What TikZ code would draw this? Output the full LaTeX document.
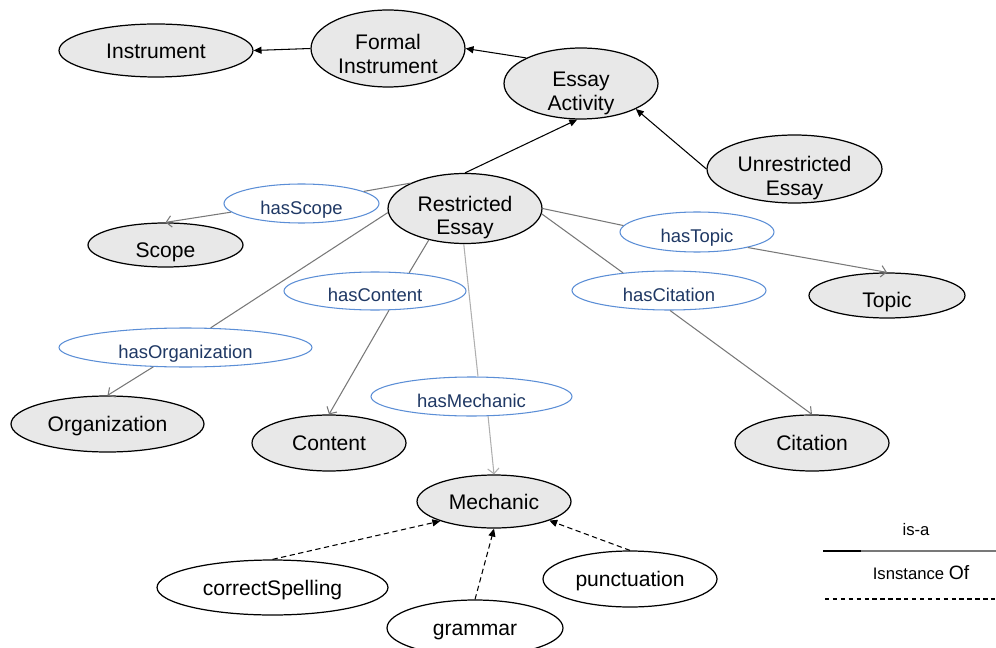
\documentclass[tikz,border=0pt]{standalone}
\usepackage{fontspec}
\setmainfont{Liberation Sans}
\usetikzlibrary{shapes.geometric,arrows.meta}
\definecolor{relazul}{RGB}{91,142,214}
\definecolor{textoazul}{RGB}{31,56,100}
\definecolor{grisclase}{RGB}{232,232,232}
\definecolor{linea}{RGB}{120,120,120}
\definecolor{linealuz}{RGB}{175,175,175}
\newcommand{\bajar}[1]{\rule{0pt}{#1}} % baja el texto de dos lineas
\begin{document}
\begin{tikzpicture}[x=0.02cm,y=-0.02cm,
    clase/.style={ellipse,draw,line width=0.7pt,fill=grisclase,inner sep=0pt,align=center,font=\fontsize{12}{13.6}\selectfont},
    dos/.style={inner ysep=-8pt},
    indiv/.style={ellipse,draw,line width=0.7pt,fill=white,inner sep=0pt,font=\fontsize{12}{13.6}\selectfont,una},
    rel/.style={ellipse,draw=relazul,line width=0.6pt,fill=white,inner sep=0pt,text=textoazul,font=\fontsize{10.5}{12}\selectfont,text height=12pt,text depth=0pt},
    una/.style={text height=9pt,text depth=0pt},
    esun/.style={line width=0.6pt,-{Triangle[length=4.5pt,width=4pt]}},
    tramo/.style={line width=0.6pt,draw=linea},
    tiene/.style={tramo,-{Straight Barb[length=3pt,width=6.5pt]}},
    ejemplo/.style={esun,dash pattern=on 3pt off 2pt},
    leyenda/.style={font=\fontsize{9.5}{11}\selectfont}]
  \useasboundingbox (0,0) rectangle (996,648);
  % Clases
  \node[clase,una,minimum width=3.88cm,minimum height=1.06cm] (instr) at (156,50.5) {Instrument};
  \node[clase,dos,minimum width=3.08cm,minimum height=1.54cm] (formal) at (388,48.5) {\bajar{14.5pt}Formal\\Instrument};
  \node[clase,dos,minimum width=3.08cm,minimum height=1.42cm] (activ) at (581,83.5) {\bajar{19.5pt}Essay\\Activity};
  \node[clase,dos,minimum width=3.5cm,minimum height=1.36cm] (unres) at (794.5,169) {\bajar{19pt}Unrestricted\\Essay};
  \node[clase,dos,minimum width=3.08cm,minimum height=1.4cm] (restr) at (465,208.5) {\bajar{19pt}Restricted\\Essay};
  \node[clase,una,text height=14pt,minimum width=3.1cm,minimum height=0.88cm] (scope) at (165.5,245) {Scope};
  \node[clase,una,text height=14pt,minimum width=3.12cm,minimum height=0.9cm] (topic) at (887,295.5) {Topic};
  \node[clase,una,minimum width=3.86cm,minimum height=1.12cm] (organiz) at (107.5,424) {Organization};
  \node[clase,una,minimum width=3.08cm,minimum height=1.12cm] (content) at (329,443) {Content};
  \node[clase,una,minimum width=3.08cm,minimum height=1.12cm] (citation) at (812,443) {Citation};
  \node[clase,una,minimum width=3.08cm,minimum height=1.06cm] (mechanic) at (494,501.5) {Mechanic};
  % Instancias
  \node[indiv,minimum width=4.62cm,minimum height=1.1cm] (spelling) at (272.5,587.5) {correctSpelling};
  \node[indiv,minimum width=3.52cm,minimum height=1.12cm] (grammar) at (475,628) {grammar};
  \node[indiv,minimum width=3.48cm,minimum height=1.12cm] (punct) at (630,579) {punctuation};
  % Relaciones
  \node[rel,minimum width=3.1cm,minimum height=0.78cm] (hasscope) at (301.5,203.5) {hasScope};
  \node[rel,minimum width=3.08cm,minimum height=0.8cm] (hastopic) at (697,232) {hasTopic};
  \node[rel,minimum width=3.88cm,minimum height=0.78cm] (hascitation) at (669,290.5) {hasCitation};
  \node[rel,minimum width=3.64cm,minimum height=0.76cm] (hascontent) at (375,291) {hasContent};
  \node[rel,minimum width=5.06cm,minimum height=0.78cm] (hasorganiz) at (185.5,347.5) {hasOrganization};
  \node[rel,minimum width=4.02cm,minimum height=0.78cm] (hasmechanic) at (471.5,396.5) {hasMechanic};
  % is-a
  \draw[esun] (formal.west) -- (instr.east);
  \draw[esun] (activ.155) -- (formal.east);
  \draw[esun] (restr.north) -- (activ.264);
  \draw[esun] (unres.west) -- (activ.-25);
  % propiedades
  \draw[tramo] (restr.155) -- (hasscope.11);
  \draw[tiene] (hasscope.187) -- (scope.north);
  \draw[tramo] (restr.east) -- (hastopic.175);
  \draw[tiene] (hastopic.-17) -- (topic.north);
  \draw[tramo] (restr.-4) -- (hascitation.159);
  \draw[tiene] (hascitation.-87) -- (citation.north);
  \draw[tramo] (restr.221) -- (hascontent.28);
  \draw[tiene] (hascontent.-54) -- (content.north);
  \draw[tramo] (restr.183) -- (hasorganiz.38);
  \draw[tiene] (hasorganiz.211) -- (organiz.north);
  \draw[tramo,draw=linealuz] (restr.268) -- (hasmechanic.72);
  \draw[tiene,draw=linealuz] (hasmechanic.-50) -- (mechanic.north);
  % instancia de
  \draw[ejemplo] (spelling.north) -- (mechanic.200);
  \draw[ejemplo] (grammar.north) -- (mechanic.south);
  \draw[ejemplo] (punct.north) -- (mechanic.-19);
  % Leyenda
  \node[leyenda] (isa) at (916,530) {is-a};
  \node[leyenda] (isinst) at (921,573) {Isnstance {\fontsize{11}{12}\selectfont Of}};
  \coordinate (ley1a) at (823,551);
  \coordinate (ley1b) at (861,551);
  \coordinate (ley1c) at (996,551);
  \coordinate (ley2a) at (825,599);
  \coordinate (ley2b) at (996,599);
  \draw[line width=0.8pt] (ley1a) -- (ley1b);
  \draw[tramo] (ley1b) -- (ley1c);
  \draw[dash pattern=on 2.5pt off 2pt,line width=0.6pt] (ley2a) -- (ley2b);
\end{tikzpicture}
\end{document}
